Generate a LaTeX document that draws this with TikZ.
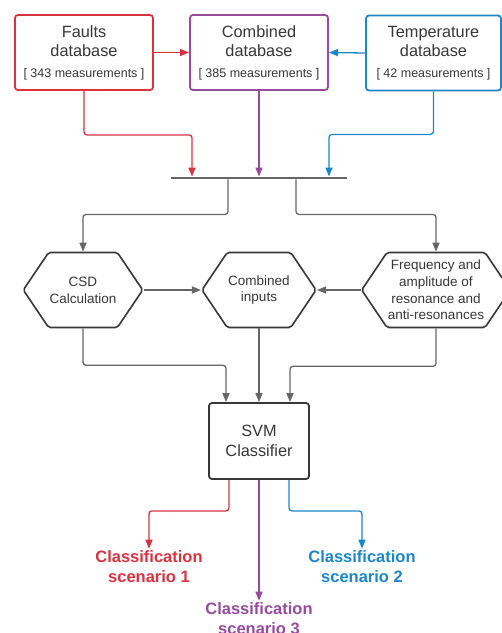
\documentclass[tikz,border=0pt]{standalone}
\usepackage{fontspec}
\setmainfont{Liberation Sans}
\usetikzlibrary{arrows.meta,shapes.symbols}
\definecolor{fred}{RGB}{217,51,63}
\definecolor{fpurple}{RGB}{150,75,158}
\definecolor{fblue}{RGB}{28,134,201}
\definecolor{fgray}{RGB}{102,102,102}
\definecolor{ftext}{RGB}{55,55,55}

\begin{document}
\begin{tikzpicture}[x=1pt,y=-1pt,
  dbbox/.style={draw,line width=1.8pt,rounded corners=3pt,minimum width=138pt,minimum height=75pt,
    align=center,text=ftext,font=\fontsize{16.3}{19.5}\selectfont},
  hexbox/.style={shape=signal,signal to=east and west,signal pointer angle=112,draw=ftext,line width=1.6pt,
    rounded corners=2pt,minimum height=75pt,inner xsep=1pt,align=center,text=ftext,
    font=\fontsize{13.5}{16.7}\selectfont},
  outlabel/.style={align=center,inner sep=2pt,font=\fontsize{16.5}{20}\selectfont\bfseries},
  link/.style={line width=1.3pt,rounded corners=3pt,-{Triangle[length=9pt,width=7pt]}},
  glink/.style={link,draw=fgray},
]
\useasboundingbox (0,0) rectangle (502,633);

% databases
\node[dbbox,draw=fred] (faults) at (84,52.5) {Faults\\database\\[1pt]{\fontsize{12.5}{15}\selectfont [ 343 measurements ]}};
\node[dbbox,draw=fpurple] (comb) at (259,52.5) {Combined\\database\\[1pt]{\fontsize{12.5}{15}\selectfont [ 385 measurements ]}};
\node[dbbox,draw=fblue,minimum width=135pt] (temp) at (433.5,53) {Temperature\\database\\[1pt]{\fontsize{12.5}{15}\selectfont [ 42 measurements ]}};

\draw[link,fred] (faults.east) -- (comb.west);
\draw[link,fblue] (temp.west) -- (comb.east);

% merging bar
\node[fill=fgray,minimum width=176pt,minimum height=2.5pt,inner sep=0pt] (bar) at (259,178) {};

\draw[link,fred] (faults.south) -- ++(0,44) -| ([xshift=-67pt]bar.north);
\draw[link,fpurple] (comb.south) -- (bar.north);
\draw[link,fblue] (temp.south) -- ++(0,43) -| ([xshift=70pt]bar.north);

% features
\node[hexbox,minimum width=112pt] (csd) at (83,290) {CSD\\Calculation};
\node[hexbox,minimum width=111pt] (inputs) at (259,290) {Combined\\inputs};
\node[hexbox,minimum width=140pt] (freq) at (436,290) {Frequency and\\amplitude of\\resonance and\\anti-resonances};

\draw[glink] ([xshift=-31pt]bar.south) -- ++(0,35) -| (csd.north);
\draw[glink] ([xshift=37pt]bar.south) -- ++(0,35) -| (freq.north);
\draw[glink] (csd.east) -- (inputs.west);
\draw[glink] (freq.west) -- (inputs.east);

% classifier
\node[draw=ftext,line width=1.8pt,rounded corners=3pt,minimum width=100pt,minimum height=76pt,
  align=center,text=ftext,font=\fontsize{16.3}{19.5}\selectfont] (svm) at (259,441) {SVM\\Classifier};

\draw[glink] (csd.south) -- ++(0,37) -| ([xshift=-33pt]svm.north);
\draw[glink] (inputs.south) -- (svm.north);
\draw[glink] (freq.south) -- ++(0,38) -| ([xshift=31pt]svm.north);

% outputs
\node[outlabel,text=fred] (sc1) at (149,567) {Classification\\scenario 1};
\node[outlabel,text=fblue] (sc2) at (362,567) {Classification\\scenario 2};
\node[outlabel,text=fpurple] (sc3) at (259,619) {Classification\\scenario 3};

\draw[link,fred] ([xshift=-30pt]svm.south) -- ++(0,31) -| (sc1.north);
\draw[link,fpurple] (svm.south) -- (sc3.north);
\draw[link,fblue] ([xshift=30pt]svm.south) -- ++(0,31) -| (sc2.north);
\end{tikzpicture}
\end{document}
